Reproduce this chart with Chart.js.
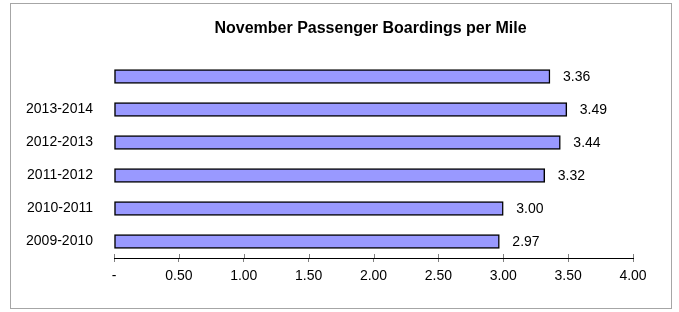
<!DOCTYPE html>
<html lang="en">

<head>
  <meta charset="UTF-8" />
  <script src="https://cdn.jsdelivr.net/npm/chart.js"></script>
  <title>November Passenger Boardings per Mile</title>
  <style>
    body { margin: 0; background: #fff; }
    #frame { position: absolute; left: 10px; top: 3px; width: 660px; height: 304px; border: 1px solid #a6a6a6; }
    #wrap { position: absolute; left: 0; top: 0; width: 679px; height: 312px; }
  </style>
</head>

<body>
  <div id="frame"></div>
  <div id="wrap">
    <canvas id="boardingsChart" width="679" height="312"></canvas>
  </div>

  <script>
    const chartTitle = 'November Passenger Boardings per Mile';
    const seasons = ['', '2013-2014', '2012-2013', '2011-2012', '2010-2011', '2009-2010'];
    const boardings = [3.36, 3.49, 3.44, 3.32, 3.00, 2.97];
    const xTickLabels = ['-', '0.50', '1.00', '1.50', '2.00', '2.50', '3.00', '3.50', '4.00'];

    const font = 'Liberation Sans, Arial, sans-serif';

    // title over the plot area, value labels, and tick marks that cross the axis
    const extras = {
      id: 'extras',
      afterDraw(chart) {
        const ctx = chart.ctx;
        const area = chart.chartArea;
        ctx.save();
        ctx.fillStyle = '#000';
        ctx.font = 'bold 16px ' + font;
        ctx.textAlign = 'center';
        ctx.textBaseline = 'alphabetic';
        ctx.fillText(chartTitle, (area.left + area.right) / 2 - 3, 33);

        ctx.font = '14px ' + font;
        ctx.textAlign = 'left';
        ctx.textBaseline = 'middle';
        chart.getDatasetMeta(0).data.forEach(function (bar, i) {
          ctx.fillText(boardings[i].toFixed(2), bar.x + 13, bar.y + 1);
        });

        const x = chart.scales.x;
        ctx.strokeStyle = '#808080';
        ctx.lineWidth = 1;
        x.ticks.forEach(function (t) {
          const px = Math.round(x.getPixelForValue(t.value)) + 0.5;
          ctx.beginPath();
          ctx.moveTo(px, area.bottom - 4);
          ctx.lineTo(px, area.bottom);
          ctx.stroke();
        });
        ctx.restore();
      }
    };

    const ctx = document.getElementById('boardingsChart').getContext('2d');
    new Chart(ctx, {
      type: 'bar',
      data: {
        labels: seasons,
        datasets: [{
          data: boardings,
          backgroundColor: '#9999ff',
          borderColor: '#000',
          borderWidth: 1.5,
          borderSkipped: false,
          barThickness: 14
        }]
      },
      options: {
        indexAxis: 'y',
        responsive: false,
        animation: false,
        layout: { padding: { top: 60, right: 46, left: 0, bottom: 0 } },
        plugins: {
          legend: { display: false },
          tooltip: { enabled: false }
        },
        scales: {
          x: {
            min: 0,
            max: 4,
            afterFit(scale) { scale.height = 54; },
            border: { display: true, color: '#000', width: 1 },
            grid: { display: true, drawOnChartArea: false, drawTicks: true, tickLength: 4, color: '#808080' },
            ticks: {
              stepSize: 0.5,
              padding: 6,
              color: '#000',
              font: { family: font, size: 14 },
              maxRotation: 0,
              callback: function (value, index) { return xTickLabels[index]; }
            }
          },
          y: {
            afterFit(scale) { scale.width = 114; },
            border: { display: false },
            grid: { display: false },
            ticks: {
              padding: 13,
              color: '#000',
              font: { family: font, size: 14 }
            }
          }
        }
      },
      plugins: [extras]
    });
  </script>
</body>

</html>
